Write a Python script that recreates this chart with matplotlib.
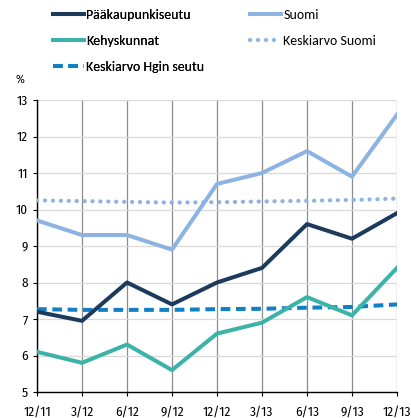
import matplotlib
matplotlib.use("Agg")
import matplotlib.pyplot as plt
from matplotlib import font_manager as fm

names = {f.name for f in fm.fontManager.ttflist}
fam = next((n for n in ["Fira Sans Condensed", "Asap Condensed", "Carlito"] if n in names), "DejaVu Sans")
fam_leg = next((n for n in ["Carlito", "Fira Sans Extra Condensed"] if n in names), "DejaVu Sans")
plt.rcParams['font.family'] = [fam, 'DejaVu Sans']

labels = ["12/11", "3/12", "6/12", "9/12", "12/12", "3/13", "6/13", "9/13", "12/13"]
paakaupunkiseutu = [7.2, 6.95, 8.0, 7.4, 8.0, 8.4, 9.6, 9.2, 9.9]
suomi = [9.7, 9.3, 9.3, 8.9, 10.7, 11.0, 11.6, 10.9, 12.6]
kehyskunnat = [6.1, 5.8, 6.3, 5.6, 6.6, 6.9, 7.6, 7.1, 8.4]
keskiarvo_suomi = [10.25, 10.23, 10.21, 10.19, 10.2, 10.22, 10.24, 10.26, 10.3]
keskiarvo_hgin = [7.27, 7.25, 7.25, 7.25, 7.27, 7.28, 7.31, 7.33, 7.4]

W, H = 411, 418
fig = plt.figure(figsize=(W / 100, H / 100), dpi=100)
ax = fig.add_axes([37 / W, 26 / H, 360 / W, 292 / H])
x = list(range(len(labels)))

c_pk, c_su, c_ke, c_hg = "#1b3a5c", "#8db3e2", "#3cb3a8", "#1080c6"
lw = 2.9
l1, = ax.plot(x, paakaupunkiseutu, color=c_pk, lw=lw, label="Pääkaupunkiseutu", zorder=4)
l2, = ax.plot(x, suomi, color=c_su, lw=lw, label="Suomi", zorder=4)
l3, = ax.plot(x, kehyskunnat, color=c_ke, lw=lw, label="Kehyskunnat", zorder=4)
l4, = ax.plot(x, keskiarvo_suomi, color=c_su, lw=3.0, ls=(0, (0.05, 1.85)),
              dash_capstyle="round", label="Keskiarvo Suomi", zorder=3)
l5, = ax.plot(x, keskiarvo_hgin, color=c_hg, lw=lw, ls=(0, (2.4, 1.4)),
              label="Keskiarvo Hgin seutu", zorder=3)

ax.set_xlim(0, 8)
ax.set_ylim(5, 13)
ax.set_yticks(range(5, 14))
ax.set_xticks(x)
ax.set_xticklabels(labels)
ax.tick_params(axis='both', labelsize=9.5, length=3, width=0.8, direction='out', color='black')
ax.tick_params(axis='y', pad=3.5)
ax.tick_params(axis='x', pad=7)
ax.grid(axis='y', color='#d9d9d9', lw=0.9)
ax.grid(axis='x', color='#8c8c8c', lw=0.9)
ax.set_axisbelow(True)
for s in ['top', 'right']:
    ax.spines[s].set_visible(False)
ax.spines['left'].set_color('black')
ax.spines['bottom'].set_color('black')
ax.spines['left'].set_linewidth(1.0)
ax.spines['bottom'].set_linewidth(1.0)

fig.text(20 / W, 1 - 80 / H, "%", fontsize=8.5, ha='center', va='center')

common = dict(loc='upper left', frameon=False, handlelength=2.2,
              handletextpad=0.2, labelspacing=1.0, borderpad=0, borderaxespad=0,
              prop={'family': [fam_leg, 'DejaVu Sans'], 'size': 10})
leg1 = fig.legend([l1, l3, l5], [l1.get_label(), l3.get_label(), l5.get_label()],
                  bbox_to_anchor=(53 / W, 1 - 9 / H), **common)
fig.add_artist(leg1)
leg2 = fig.legend([l2, l4], [l2.get_label(), l4.get_label()],
                  bbox_to_anchor=(250 / W, 1 - 9 / H), **common)

fig.savefig("out.png", dpi=100)
